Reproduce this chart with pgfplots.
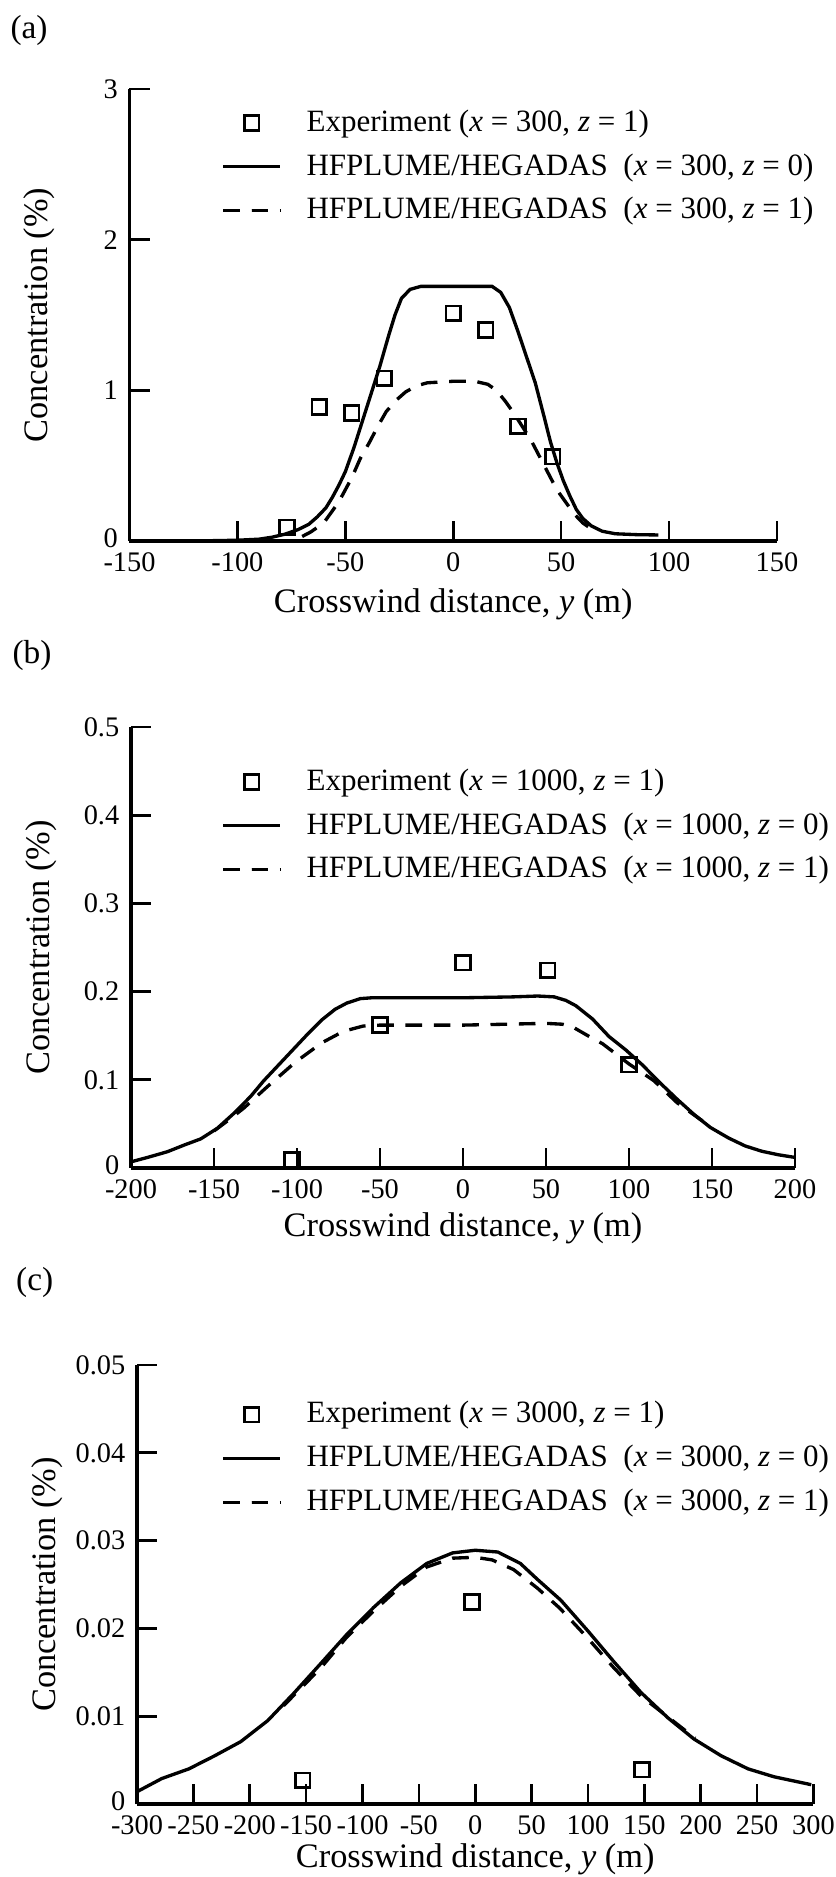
\documentclass[border=0pt]{standalone}
\usepackage{fontspec}
\setmainfont{Liberation Serif}
\usepackage{pgfplots}
\pgfplotsset{compat=1.18}

\pgfplotsset{
  panel/.style={
    scale only axis,
    axis lines=left,
    axis line style={-, line width=1pt},
    tick align=inside,
    major tick length=6pt,
    tick style={line width=0.8pt, black},
    every tick label/.append style={font=\fontsize{8.5}{10}\selectfont},
    /pgf/number format/assume math mode=true,
    scaled y ticks=false, scaled x ticks=false,
    label style={font=\fontsize{10.3}{12}\selectfont},
    ylabel style={at={([xshift=-27pt]axis description cs:0,0.5)}, anchor=center},
    xlabel={Crosswind distance, \textit{y} (m)},
    ylabel={Concentration (\%)},
    legend style={draw=none, fill=none, font=\fontsize{9.3}{11}\selectfont,
      legend cell align=left, inner sep=0pt, row sep=1.2pt,
      /tikz/every odd column/.append style={column sep=5.4pt},
      at={(axis description cs:0,1)}, anchor=north west},
    clip=false,
  },
  exp/.style={only marks, mark=square, mark size=2.2pt, mark options={line width=0.8pt, black}},
  sol/.style={black, line width=1pt, no marks},
  dsh/.style={black, line width=1pt, no marks, dash pattern=on 5pt off 3.5pt},
}

\begin{document}
\begin{tikzpicture}
\useasboundingbox (0,0) rectangle (250.8pt,563.1pt);
\node[font=\fontsize{10}{12}\selectfont] at (8.7pt,553.9pt) {(a)};
\node[font=\fontsize{10}{12}\selectfont] at (9.6pt,366.4pt) {(b)};
\node[font=\fontsize{10}{12}\selectfont] at (10.4pt,178.3pt) {(c)};

% ---------------- (a) ----------------
\begin{axis}[panel, at={(38.85pt,400.8pt)}, anchor=south west,
  width=194.25pt, height=135.6pt,
  xmin=-150, xmax=150, ymin=0, ymax=3,
  xtick={-150,-100,...,150}, ytick={0,1,2,3},
  yticklabels={\raisebox{2pt}{0},1,2,3},
  xlabel style={at={([yshift=-19pt]axis description cs:0.5,0)}, anchor=center},
  legend style={xshift=27.45pt, yshift=-4pt}]
\addplot[exp] table {
-77 0.09
-62 0.89
-47 0.85
-32 1.08
0 1.51
15 1.40
30 0.76
46 0.56
};
\addlegendentry{Experiment (\textit{x} = 300, \textit{z} = 1)}
\addplot[sol] table {
-120 0.0
-100 0.005
-90 0.012
-84 0.025
-78 0.045
-72 0.075
-67 0.11
-63 0.16
-59 0.22
-56 0.29
-53 0.37
-50 0.46
-46 0.62
-42 0.80
-38 0.98
-34 1.16
-30 1.36
-27 1.50
-24 1.61
-20 1.67
-15 1.69
0 1.69
18 1.69
22 1.65
26 1.55
30 1.39
34 1.22
38 1.05
42 0.83
45 0.66
48 0.52
51 0.40
54 0.30
57 0.21
60 0.15
64 0.10
69 0.065
75 0.048
85 0.042
95 0.04
};
\addlegendentry{HFPLUME/HEGADAS\ \ (\textit{x} = 300, \textit{z} = 0)}
\addplot[dsh] table {
-70 0.03
-66 0.06
-60 0.12
-56 0.20
-53 0.26
-50 0.34
-47 0.42
-43 0.55
-39 0.65
-35 0.76
-31 0.86
-26 0.94
-22 0.99
-17 1.03
-12 1.05
0 1.06
10 1.06
16 1.04
20 1.00
24 0.93
28 0.85
32 0.76
36 0.67
40 0.56
44 0.45
48 0.34
52 0.26
56 0.18
60 0.12
65 0.07
};
\addlegendentry{HFPLUME/HEGADAS\ \ (\textit{x} = 300, \textit{z} = 1)}
\end{axis}

% ---------------- (b) ----------------
\begin{axis}[panel, at={(39.3pt,212.7pt)}, anchor=south west,
  width=199.2pt, height=132.3pt,
  xmin=-200, xmax=200, ymin=0, ymax=0.5,
  xtick={-200,-150,...,200},
  ytick={0,0.1,0.2,0.3,0.4,0.5},
  yticklabels={\raisebox{2pt}{0},0.1,0.2,0.3,0.4,0.5},
  xlabel style={at={([yshift=-18pt]axis description cs:0.5,0)}, anchor=center},
  legend style={xshift=27pt, yshift=-10.3pt}]
\addplot[exp] table {
-103 0.009
-50 0.162
0 0.233
51 0.224
100 0.117
};
\addlegendentry{Experiment (\textit{x} = 1000, \textit{z} = 1)}
\addplot[sol] table {
-200 0.007
-190 0.012
-178 0.0185
-168 0.026
-158 0.033
-148 0.045
-138 0.062
-128 0.081
-120 0.099
-110 0.119
-101 0.137
-93 0.153
-85 0.168
-77 0.180
-70 0.187
-62 0.192
-55 0.193
0 0.193
30 0.194
45 0.195
55 0.194
62 0.190
68 0.184
78 0.169
88 0.149
98 0.134
108 0.117
119 0.096
129 0.078
139 0.061
149 0.046
160 0.034
170 0.025
180 0.019
190 0.015
200 0.012
};
\addlegendentry{HFPLUME/HEGADAS\ \ (\textit{x} = 1000, \textit{z} = 0)}
\addplot[dsh] table {
-150 0.042
-140 0.056
-132 0.068
-118 0.092
-101 0.120
-85 0.142
-72 0.155
-60 0.161
-50 0.162
0 0.162
50 0.164
60 0.163
66 0.160
78 0.147
84 0.141
100 0.118
115 0.099
129 0.074
143 0.055
150 0.047
};
\addlegendentry{HFPLUME/HEGADAS\ \ (\textit{x} = 1000, \textit{z} = 1)}
\end{axis}

% ---------------- (c) ----------------
\begin{axis}[panel, at={(41.1pt,21.9pt)}, anchor=south west,
  width=202.95pt, height=131.7pt,
  xmin=-300, xmax=300, ymin=0, ymax=0.05,
  xtick={-300,-250,...,300},
  ytick={0,0.01,0.02,0.03,0.04,0.05},
  yticklabels={\raisebox{2pt}{0},0.01,0.02,0.03,0.04,0.05},
  xlabel style={at={([yshift=-16.5pt]axis description cs:0.5,0)}, anchor=center},
  legend style={xshift=25.2pt, yshift=-8.7pt}]
\addplot[exp] table {
-153 0.0027
-3 0.023
148 0.0039
};
\addlegendentry{Experiment (\textit{x} = 3000, \textit{z} = 1)}
\addplot[sol] table {
-300 0.0014
-278 0.0029
-254 0.0040
-231 0.0055
-208 0.0071
-184 0.0095
-161 0.0126
-137 0.0160
-114 0.0193
-90 0.0224
-66 0.0252
-43 0.0274
-20 0.0286
0 0.0289
20 0.0287
40 0.0274
55 0.0256
76 0.0232
100 0.0197
123 0.0162
147 0.0127
171 0.0098
194 0.0074
218 0.0055
242 0.0040
265 0.0031
298 0.0022
};
\addlegendentry{HFPLUME/HEGADAS\ \ (\textit{x} = 3000, \textit{z} = 0)}
\addplot[dsh] table {
-170 0.0112
-150 0.0138
-137 0.0155
-114 0.0190
-90 0.0220
-66 0.0248
-43 0.0270
-20 0.0280
0 0.0281
15 0.0278
34 0.0267
55 0.0246
75 0.0223
99 0.0190
123 0.0155
147 0.0123
175 0.0095
195 0.0075
};
\addlegendentry{HFPLUME/HEGADAS\ \ (\textit{x} = 3000, \textit{z} = 1)}
\end{axis}
\end{tikzpicture}
\end{document}
